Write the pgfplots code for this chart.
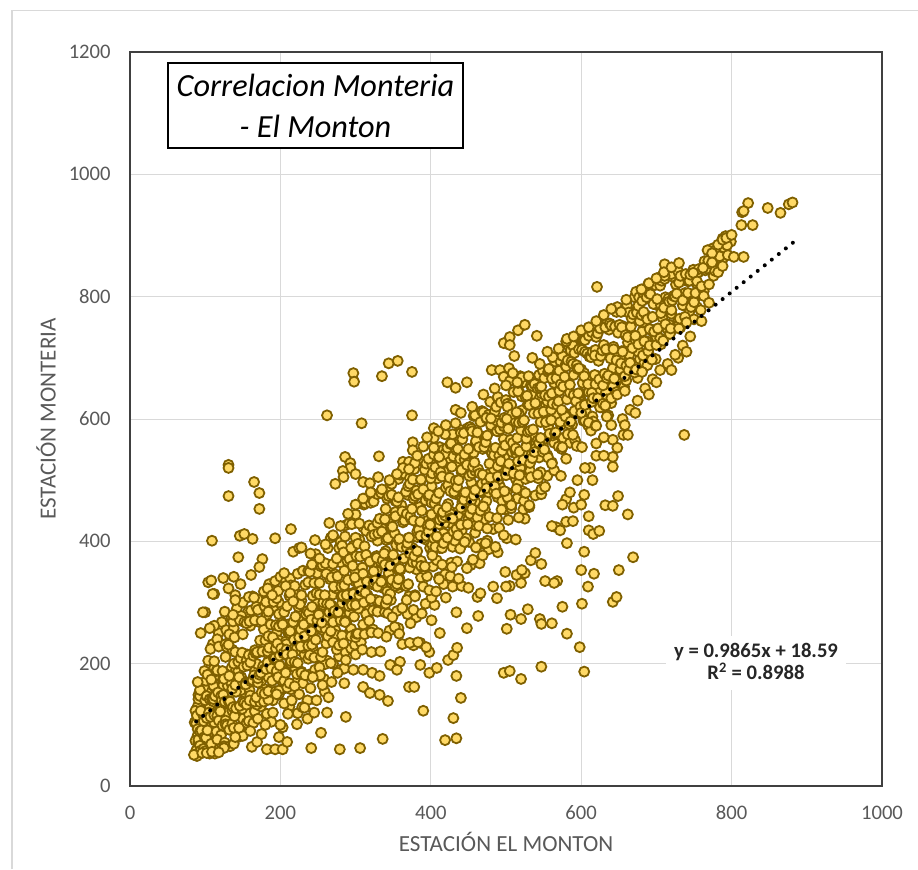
\documentclass[border=0pt]{standalone}
\usepackage{fontspec}
\setmainfont{Carlito}
\usepackage{pgfplots}
\pgfplotsset{compat=1.18}
\definecolor{markfill}{HTML}{FFD966}
\definecolor{markdraw}{HTML}{7F6000}
\definecolor{gridgray}{HTML}{D9D9D9}
\definecolor{tickgray}{HTML}{595959}
\definecolor{axisgray}{HTML}{404040}
\begin{document}
\begin{tikzpicture}
\useasboundingbox (0,0) rectangle (688.5pt,651.75pt);
\begin{axis}[
  at={(97.5pt,62.25pt)}, anchor=south west,
  scale only axis, width=564pt, height=550.5pt,
  xmin=0, xmax=1000, ymin=0, ymax=1200,
  xtick={0,200,400,600,800,1000}, ytick={0,200,400,600,800,1000,1200},
  grid=major, major grid style={draw=gridgray, line width=0.75pt},
  axis line style={draw=axisgray, line width=1.1pt},
  major tick length=0pt, tick style={draw=none},
  /pgf/number format/assume math mode=true,
  /pgf/number format/1000 sep={},
  tick label style={font=\fontsize{15.5}{18}\selectfont, text=tickgray},
  yticklabel style={inner sep=0pt, xshift=-14.3pt},
  xticklabel style={inner sep=0pt, yshift=-14.6pt},
  clip=false, clip marker paths=true,
]
\addplot[only marks, mark=*, mark size=3.75pt, mark options={fill=markfill, draw=markdraw, line width=1.35pt}] coordinates {
(104,205)(110,232)(118,250)(122,268)(128,255)(135,275)(142,290)(150,300)(157,285)(163,310)(170,305)(178,318)(185,330)(193,335)
(200,342)(112,262)(126,285)(138,258)(148,278)(160,262)(172,268)(182,280)(190,290)(198,300)(116,240)(132,248)
(150,110)(158,118)(166,122)(174,130)(182,118)(190,140)(198,150)(206,160)(214,158)(222,170)(230,168)(238,182)(246,190)(254,198)
(262,205)(270,200)(278,212)(286,220)(294,225)(300,215)(188,105)(212,130)(236,140)(258,175)(280,190)
(251,180)(249,348)(259,199)(257,365)(267,201)(265,359)(275,231)(273,346)(283,233)(281,365)(291,249)(289,380)
(299,231)(297,393)(307,235)(305,403)(315,254)(313,420)(323,256)(321,414)(331,286)(329,401)(339,288)(337,420)
(347,304)(345,435)(355,286)(353,448)(363,291)(361,459)(371,310)(369,476)(379,312)(377,470)(387,341)(385,456)
(395,343)(393,475)(403,359)(401,490)(411,341)(409,503)(419,346)(417,514)(427,365)(425,531)(435,367)(433,525)
(443,397)(441,512)(451,399)(449,531)(459,414)(457,545)(467,396)(465,558)(475,401)(473,569)(483,420)(481,586)
(491,422)(489,580)(499,452)(497,567)(507,454)(505,586)(515,470)(513,601)(523,452)(521,614)(531,456)(529,624)
(539,475)(537,641)(547,477)(545,635)(555,507)(553,622)
(285,192)(297,190)(309,223)(321,219)(333,220)(345,254)(357,258)(369,281)(381,276)(393,298)(405,296)(417,330)
(429,326)(441,327)(453,361)(465,364)(477,387)(489,382)(501,405)(513,403)(525,437)
(90,83)(93,129)(88,107)(96,157)(99,99)(94,125)(102,154)(105,87)(100,146)(108,119)(111,164)(106,131)
(114,113)(117,148)(112,179)(120,127)(123,167)(118,109)(126,163)(129,119)(124,165)(132,149)(135,193)(130,135)
(138,167)(141,190)(136,123)(144,188)(147,155)(142,200)(150,167)(153,143)(148,178)(156,215)(159,157)(154,197)
(162,144)(165,192)(160,148)(168,200)(171,178)(166,222)(174,170)(177,196)(172,219)(180,158)(183,217)(178,184)
(186,235)(189,202)(184,178)(192,219)(195,250)(190,192)(198,238)(201,180)(196,228)(204,190)(207,236)(202,214)
(210,264)(213,206)(208,232)(216,261)(219,194)(214,253)(222,226)(225,271)(220,238)(228,220)(231,255)(226,286)
(234,233)(237,273)(232,215)(240,269)(243,225)(238,271)(246,255)(249,299)(244,241)(252,259)(255,282)(250,215)
(258,280)(261,247)(256,292)(264,265)(267,241)(262,276)(270,313)(273,255)(268,295)(276,243)(279,291)(274,247)
(282,299)(285,277)(280,321)(288,269)(291,295)(286,318)(294,257)(297,316)(292,283)(300,334)(303,301)(298,277)
(306,317)(309,348)(304,290)(312,336)(315,278)(310,326)(318,288)(321,334)(316,312)(324,362)(327,304)(322,330)
(330,359)(333,292)(328,351)(336,324)(339,369)(334,336)(342,318)(345,353)(340,384)(348,332)(351,372)(346,314)
(354,368)(357,324)(352,370)(360,354)(363,398)(358,340)(366,372)(369,395)(364,328)(372,393)(375,360)(370,405)
(378,378)(381,354)(376,389)(384,425)(387,367)(382,407)(390,355)(393,403)(388,359)(396,411)(399,389)(394,433)
(402,381)(405,407)(400,430)(408,369)(411,428)(406,395)(414,446)(417,413)(412,389)(420,430)(423,461)(418,403)
(426,449)(429,391)(424,439)(432,401)(435,447)(430,425)(438,475)(441,417)(436,443)(444,472)(447,405)(442,464)
(450,437)(453,482)(448,449)(456,430)(459,465)(454,496)(462,444)(465,484)(460,426)(468,480)(471,436)(466,482)
(474,466)(477,510)(472,452)(480,484)(483,507)(478,440)(486,505)(489,472)(484,517)(492,490)(495,466)(490,501)
(498,538)(501,480)(496,520)(504,468)(507,516)(502,472)(510,524)(513,502)(508,546)(516,494)(519,520)(514,543)
(522,482)(525,541)(520,508)(528,559)(531,526)(526,502)(534,542)(537,573)(532,515)(540,561)(543,503)(538,551)
(546,513)(549,559)(544,537)(552,599)(555,541)(550,567)(558,596)(561,529)(556,588)(564,561)(567,606)(562,573)
(570,555)(573,590)(568,621)(576,569)(579,609)(574,551)(582,605)(585,561)(580,607)(588,591)(591,635)(586,577)
(594,609)(597,632)(592,565)(600,630)(603,597)(598,642)(606,614)(609,590)(604,625)(612,662)(615,604)(610,644)
(618,592)(621,640)(616,596)(624,648)(627,626)(622,670)(630,618)(633,644)(628,667)(636,606)(639,665)(634,632)
(642,683)(645,650)(640,626)(648,667)(651,698)(646,640)(654,711)(657,653)(652,701)(660,663)(663,709)(658,687)
(666,737)(669,679)(664,705)(672,734)(675,667)(670,726)(678,698)(681,743)(676,710)(684,692)(687,727)(682,758)
(690,706)(693,746)(688,688)(696,742)(699,698)(694,744)(702,748)(705,792)(700,734)(708,766)(711,789)(706,722)
(714,787)(717,754)(712,799)(720,772)(723,748)(718,783)(726,820)(729,762)(724,802)(732,750)(735,798)(730,754)
(738,806)(741,784)(736,828)(744,776)(747,802)(742,825)(750,763)(753,822)(748,789)(756,840)(759,807)(754,783)
(88,58)(90,52)(87,74)(91,72)(86,104)(88,102)(90,130)(87,123)(91,149)
(89,49)(91,76)(93,66)(90,93)(94,117)(89,115)(91,142)(93,147)
(94,58)(98,61)(93,89)(95,91)(97,117)(94,123)(98,162)(93,157)
(100,57)(102,78)(99,80)(103,106)(98,106)(100,140)(102,147)(99,188)
(106,53)(101,79)(103,91)(105,120)(102,111)(106,142)(101,172)(103,182)
(111,61)(108,69)(112,104)(107,113)(109,142)(111,138)(108,174)(112,193)(107,224)
(113,53)(115,89)(112,116)(116,115)(111,142)(113,147)(115,188)(112,204)
(121,83)(116,76)(118,107)(120,122)(117,153)(121,147)(116,189)(118,228)
(126,71)(123,99)(127,107)(122,140)(124,149)(126,184)(123,188)(127,232)
(125,65)(127,101)(129,99)(126,138)(130,164)(125,175)(127,211)(129,227)
(132,92)(136,102)(131,139)(133,138)(135,167)(132,180)(136,223)(131,231)
(138,95)(140,125)(137,129)(141,154)(136,159)(138,200)(140,219)(137,269)
(144,80)(139,114)(141,127)(143,167)(140,165)(144,203)(139,243)
(147,95)(149,126)(146,131)(150,170)(145,178)(147,209)(149,218)(146,271)
(155,103)(150,138)(152,136)(154,169)(151,195)(155,205)(150,248)(152,268)
(158,106)(155,133)(159,170)(154,166)(156,197)(158,214)(155,266)
(164,103)(159,140)(161,171)(163,173)(160,202)(164,213)(159,269)(161,287)
(169,133)(166,138)(170,169)(165,181)(167,217)(169,218)(166,271)
(173,137)(168,145)(170,176)(172,182)(169,219)(173,238)(168,293)(170,288)
(178,138)(175,153)(179,191)(174,185)(176,220)(178,256)(175,270)
(184,141)(179,151)(181,191)(183,202)(180,238)(184,245)(179,294)(181,301)
(187,154)(184,155)(188,192)(183,220)(185,226)(187,264)(184,285)
(194,155)(189,172)(191,209)(193,209)(190,243)(194,263)(189,311)(191,301)
(198,156)(195,188)(199,197)(194,225)(196,233)(198,281)(195,307)
(202,172)(197,178)(199,213)(201,225)(198,261)(202,267)(197,319)
(205,172)(207,185)(204,217)(208,223)(203,264)(205,284)(207,334)
(209,161)(213,201)(208,215)(210,251)(212,250)(209,294)(213,339)
(212,168)(214,204)(216,215)(213,253)(217,268)(212,311)(214,328)
(222,183)(219,203)(223,241)(218,239)(220,277)(222,314)(219,327)
(228,187)(223,201)(225,243)(227,256)(224,293)(228,303)(223,347)
(228,185)(230,226)(227,228)(231,264)(226,297)(228,312)(230,352)
(233,181)(237,229)(232,245)(234,281)(236,286)(233,329)(237,352)
(237,208)(239,214)(241,253)(238,283)(242,293)(237,333)(239,350)
(245,210)(242,231)(246,270)(241,272)(243,311)(245,332)(242,362)
(252,194)(247,239)(249,271)(251,280)(248,315)(252,332)(247,379)
(254,211)(256,255)(253,260)(257,296)(252,313)(254,359)(256,365)
(256,219)(260,257)(255,267)(257,300)(259,312)(256,361)(260,364)
(261,233)(263,245)(265,284)(262,298)(266,338)(261,347)(263,389)
(270,235)(267,253)(271,287)(266,297)(268,341)(270,363)(267,406)
(275,223)(270,268)(272,286)(274,323)(271,326)(275,372)(270,409)
(278,230)(280,271)(277,284)(281,326)(276,343)(278,389)(280,399)
(282,246)(286,270)(281,310)(283,311)(285,352)(282,393)(286,408)
(284,233)(286,268)(288,312)(285,328)(289,368)(284,382)(286,426)
(294,245)(291,294)(295,298)(290,337)(292,371)(294,389)(291,429)
(300,243)(295,296)(297,314)(299,353)(296,360)(300,406)(295,428)
(301,249)(303,249)(300,296)(304,331)(299,341)(301,376)(303,396)(300,444)
(310,264)(305,312)(307,319)(309,357)(306,375)(310,423)(305,429)
(312,248)(314,281)(311,300)(315,336)(310,347)(312,392)(314,417)(311,460)
(318,270)(313,316)(315,334)(317,374)(314,378)(318,426)(313,462)
(321,251)(323,287)(320,306)(324,351)(319,367)(321,408)(323,422)(320,463)
(329,285)(324,332)(326,336)(328,376)(325,411)(329,430)(324,465)
(330,250)(332,302)(329,326)(333,367)(328,373)(330,413)(332,437)(329,477)
(339,284)(334,334)(336,369)(338,380)(335,416)(339,436)(334,479)
(341,244)(343,282)(340,298)(344,344)(339,362)(341,402)(343,406)(340,453)(344,486)
(342,305)(344,348)(346,360)(343,405)(347,423)(342,470)(344,474)
(352,260)(349,276)(353,327)(348,337)(350,378)(352,413)(349,424)(353,466)(348,476)
(355,330)(357,354)(354,394)(358,401)(353,441)(355,465)(357,502)
(358,249)(362,291)(357,338)(359,355)(361,391)(358,404)(362,449)(357,472)(359,509)
(367,327)(364,372)(368,390)(363,431)(365,434)(367,481)(364,511)
(373,266)(368,304)(370,330)(372,380)(369,397)(373,438)(368,445)(370,490)(372,503)
(372,357)(376,366)(371,406)(373,441)(375,453)(372,494)(376,501)
(377,288)(379,310)(381,365)(378,376)(382,416)(377,434)(379,474)(381,483)(378,518)
(387,368)(382,384)(384,419)(386,432)(383,477)(387,500)(382,534)
(388,282)(390,326)(387,360)(391,406)(386,409)(388,450)(390,485)(387,501)(391,530)
(392,359)(394,409)(396,426)(393,467)(397,473)(392,517)(394,527)
(401,308)(398,320)(402,377)(397,416)(399,427)(401,463)(398,476)(402,525)(397,535)
(402,394)(404,405)(401,444)(405,462)(400,503)(402,511)(404,542)
(407,318)(411,338)(406,391)(408,408)(410,452)(407,470)(411,510)(406,521)(408,551)
(415,389)(412,435)(416,438)(411,479)(413,513)(415,529)(412,554)
(420,308)(415,362)(417,397)(419,442)(416,448)(420,488)(415,506)(417,550)(419,543)
(422,406)(426,445)(421,456)(423,492)(425,504)(422,553)(426,559)
(426,343)(428,358)(430,416)(427,438)(431,478)(426,482)(428,522)(430,560)(427,560)
(434,420)(429,437)(431,481)(433,499)(430,539)(434,549)(429,575)
(437,339)(439,388)(436,410)(440,455)(435,489)(437,500)(439,535)(436,551)(440,582)
(440,427)(442,471)(444,478)(441,517)(445,534)(440,577)(442,567)
(448,356)(445,399)(449,428)(444,468)(446,480)(448,525)(445,542)(449,585)(444,577)
(452,445)(454,467)(451,507)(455,511)(450,551)(452,587)(454,584)
(456,370)(460,390)(455,453)(457,475)(459,515)(456,522)(460,561)(455,580)(457,605)
(462,439)(459,484)(463,518)(458,529)(460,564)(462,578)(459,606)
(469,377)(464,425)(466,450)(468,494)(465,511)(469,551)(464,554)(466,595)(468,613)
(470,457)(474,497)(469,509)(471,554)(473,571)(470,611)(474,601)
(473,397)(475,421)(477,480)(474,487)(478,527)(473,562)(475,573)(477,607)(474,602)
(484,482)(479,504)(481,544)(483,551)(480,590)(484,605)(479,628)
(486,391)(488,438)(485,490)(489,506)(484,541)(486,553)(488,597)(485,612)(489,634)
(487,478)(489,523)(491,540)(488,580)(492,583)(487,620)(489,636)
(497,410)(494,452)(498,482)(493,531)(495,548)(497,588)(494,594)(498,628)(493,627)
(500,508)(502,517)(499,557)(503,591)(498,602)(500,631)(502,625)
(503,435)(507,459)(502,516)(504,527)(506,566)(503,584)(507,623)(502,620)
(510,511)(512,550)(509,561)(513,596)(508,608)(510,644)
(517,439)(514,486)(518,508)(513,552)(515,569)(517,609)(514,611)(518,643)
(516,531)(518,547)(520,582)(517,594)(521,637)(516,645)
(524,466)(526,479)(523,533)(527,555)(522,595)(524,598)(526,636)(523,660)
(532,528)(527,568)(529,579)(531,623)(528,638)(532,668)
(531,459)(533,505)(535,536)(532,581)(536,583)(531,623)(533,655)(535,654)
(538,546)(542,565)(537,609)(539,626)(541,663)(538,657)
(547,485)(542,509)(544,561)(546,569)(543,609)(547,642)(542,650)(544,672)
(549,546)(546,595)(550,612)(545,651)(547,653)(549,679)
(552,489)(556,537)(551,550)(553,595)(555,629)(552,639)(556,670)(551,667)
(558,576)(560,598)(557,637)(561,642)(556,677)(558,679)
(564,516)(561,527)(565,576)(560,615)(562,625)(564,659)(561,666)(565,694)
(566,578)(568,623)(570,629)(567,667)(571,679)(566,702)
(573,507)(575,554)(572,595)(576,611)(571,646)(573,657)(575,695)(572,695)
(579,604)(574,615)(576,653)(578,669)(575,703)(579,688)
(580,535)(582,575)(584,592)(581,632)(585,643)(580,686)(582,696)(584,718)
(586,596)(590,639)(585,656)(587,694)(589,690)(586,712)
(594,556)(589,574)(591,613)(593,629)(590,672)(594,688)(589,720)(591,708)
(599,620)(596,642)(600,681)(595,682)(597,714)(599,730)
(601,554)(605,597)(600,610)(602,659)(604,675)(601,713)(605,710)(600,731)
(605,623)(607,667)(604,670)(608,707)(603,729)(605,729)
(613,581)(610,594)(614,643)(609,657)(611,702)(613,701)(610,736)
(619,589)(614,628)(616,634)(618,672)(615,710)(619,713)(614,742)
(620,589)(622,634)(619,657)(623,695)(618,704)(620,734)(622,740)
(625,619)(629,625)(624,665)(626,703)(628,712)(625,748)
(634,604)(629,655)(631,674)(633,717)(630,721)(634,756)
(632,622)(634,667)(636,671)(633,714)(637,746)(632,750)
(640,634)(642,653)(639,699)(643,718)(638,756)(640,753)
(647,644)(644,666)(648,709)(643,714)(645,751)(647,775)
(648,640)(652,681)(647,696)(649,741)(651,754)(648,783)
(658,646)(653,691)(655,710)(657,751)(654,750)(658,777)
(658,670)(660,687)(662,725)(659,737)(663,777)(658,780)
(663,680)(665,692)(662,734)(666,751)(661,786)(663,774)
(671,676)(668,716)(672,730)(667,765)(669,771)(671,799)
(673,681)(677,726)(672,736)(674,774)(676,785)(673,808)
(681,677)(676,722)(678,760)(680,770)(677,799)(681,793)
(682,704)(684,727)(686,770)(683,775)(687,807)(682,807)
(689,711)(691,720)(688,763)(692,796)(687,799)(689,820)
(694,697)(691,747)(695,767)(690,806)(692,804)
(700,721)(697,743)(701,786)(696,788)(698,819)
(705,732)(702,748)(706,786)(701,796)(703,831)
(709,728)(706,773)(710,782)(705,818)(707,826)
(715,747)(712,755)(716,797)(711,829)
(718,739)(720,778)(717,792)(721,833)
(719,748)(721,794)(723,801)(720,837)
(730,748)(725,800)(727,805)(729,841)
(731,764)(735,786)(730,823)(732,834)
(738,767)(735,794)(739,837)
(740,758)(742,806)(744,826)
(746,783)(750,794)(745,836)
(750,791)(752,806)(749,844)
(759,778)(754,825)(756,845)
(763,809)(760,817)(764,858)
(763,801)(765,843)(767,846)
(770,820)(774,853)(769,859)
(776,834)(778,842)(775,879)
(782,840)(777,875)(779,871)
(787,858)(784,866)(788,895)
(788,850)(790,880)(792,899)
(795,868)(799,890)(794,884)
(131,525)(131,520)(131,474)(165,497)(172,479)(172,453)(109,401)(146,409)(152,412)(163,404)(193,405)(214,420)(217,383)(225,389)
(144,374)(176,371)(172,358)(161,345)(205,348)(104,333)(108,336)(124,340)(138,342)(147,330)(112,314)(131,323)(140,312)(140,304)
(158,309)(165,308)(183,323)(189,312)(207,327)(213,315)(217,302)(100,284)(137,280)(97,284)(94,250)(106,258)(90,170)(110,314)
(297,675)(298,661)(335,670)(344,691)(356,695)(375,677)(262,606)(308,593)(375,606)(286,538)(331,539)(293,528)(293,520)(283,515)
(284,505)(300,510)(310,497)(319,495)(273,494)(348,494)(376,562)(376,549)(404,585)(404,569)(404,553)(422,660)(433,651)(448,660)
(433,615)(433,593)(419,575)(411,538)(363,530)(371,530)(379,528)(363,520)(371,518)
(497,724)(505,734)(516,745)(525,754)(541,736)(505,721)(511,703)(481,680)(492,680)(504,683)(497,669)(505,662)(519,670)(516,659)
(480,601)(501,600)(557,682)(562,701)(580,727)(597,683)(509,675)(521,668)
(822,953)(814,938)(816,940)(848,945)(865,937)(876,951)(881,954)(813,917)(828,917)(803,865)(816,865)(621,816)(711,853)(711,834)
(653,775)(581,731)(768,876)(782,885)(788,893)(793,896)(800,901)(774,871)(774,856)(762,847)(749,839)
(729,700)(737,574)(656,574)(662,574)(642,566)(648,553)(642,538)(642,522)(649,474)(662,444)(669,374)(650,353)(642,301)(647,309)
(610,441)(610,418)(616,412)(624,417)(604,476)(632,459)(642,458)(604,383)(600,353)(617,347)(609,326)(601,298)(598,227)(604,187)
(581,249)(575,293)(581,397)(580,432)(589,433)(567,423)(572,418)(561,425)(580,469)(568,335)(552,335)(547,363)(561,266)(545,273)
(547,265)(529,289)(520,273)(501,257)(506,280)(497,185)(505,188)(520,175)(547,195)(463,278)(448,258)(434,180)(440,144)(430,111)
(419,75)(434,78)(390,123)(371,162)(378,162)(386,198)(398,185)(408,193)(423,206)(430,214)(435,226)(499,350)(505,327)(520,332)
(525,348)(434,284)(412,250)(401,271)(386,234)(377,230)(398,219)(483,326)(488,307)(462,309)(466,315)(450,324)(500,326)(514,345)
(521,353)(533,369)(539,381)(564,332)
(85,51)(96,54)(102,54)(109,56)(133,65)(138,69)(162,64)(169,72)(182,60)(193,60)(203,60)(209,72)(198,80)(203,96)(241,62)(279,60)
(306,62)(336,77)(254,87)(287,113)(222,101)(223,119)(229,129)(285,168)(310,162)(319,152)(332,149)(343,139)(310,190)(322,185)
(332,180)(287,206)(253,181)(243,178)(259,154)(219,163)(362,232)(372,234)(383,235)(394,227)(346,198)(359,203)(355,190)
(195,150)(205,135)(215,140)(225,150)(232,128)(240,160)(248,140)(256,165)(264,145)(210,118)(190,120)(180,100)(170,110)(200,100)
(236,110)(268,170)(276,185)(262,120)(245,120)(150,82)(160,90)(175,85)(140,80)(125,62)(118,55)(145,95)
(228,390)(240,380)(252,372)(260,395)(270,410)(246,402)(280,425)(290,445)(265,430)(300,460)(310,470)(320,480)(335,485)(345,500)
(355,510)(330,505)(382,540)(390,555)(395,570)(410,580)(420,590)(440,610)(455,620)(470,640)(485,650)(500,655)(515,660)(530,670)
(545,690)(535,700)(555,710)(570,715)(590,735)(600,745)(610,750)(620,760)(630,770)(640,780)(660,795)(680,812)(690,822)(700,830)
(710,840)(720,848)(730,855)
(620,560)(630,570)(640,590)(655,600)(665,615)(675,630)(685,650)(695,665)(705,680)(715,690)(725,705)(735,720)(745,735)(620,540)
(612,520)(630,540)(658,590)(672,610)(690,640)(700,660)(720,680)(740,710)(760,760)(770,790)
(585,480)(595,500)(605,520)(575,460)(590,455)(615,500)(600,460)
};
\addplot[black, line width=3pt, line cap=round, dash pattern=on 0pt off 6.75pt] coordinates {(88,105.4) (883,889.7)};
\end{axis}
\begin{scope}[x=0.75pt,y=-0.75pt,yshift=651.75pt]
\draw[gridgray, line width=0.9pt] (12,869) -- (12,10.5) -- (918,10.5);
\draw[black, line width=1.5pt, fill=white] (168,63) rectangle (463,148);
\node[anchor=base, inner sep=0pt, font=\fontsize{24.2}{29}\selectfont\itshape] at (315.5,97) {Correlacion Monteria};
\node[anchor=base, inner sep=0pt, font=\fontsize{24.2}{29}\selectfont\itshape] at (315.5,138) {- El Monton};
\fill[white] (666,636) rectangle (846,690);
\node[anchor=base, inner sep=0pt, font=\fontsize{15.5}{18}\selectfont\bfseries, text=black!85] at (756,657) {y = 0.9865x + 18.59};
\node[anchor=base, inner sep=0pt, font=\fontsize{15.5}{18}\selectfont\bfseries, text=black!85] at (756,679.5) {R\textsuperscript{2} = 0.8988};
\node[anchor=base, inner sep=0pt, font=\fontsize{17.3}{20}\selectfont, text=tickgray] at (506,851.5) {ESTACIÓN EL MONTON};
\node[anchor=base, inner sep=0pt, rotate=90, font=\fontsize{17.3}{20}\selectfont, text=tickgray] at (55.5,419) {ESTACIÓN MONTERIA};
\end{scope}
\end{tikzpicture}
\end{document}
